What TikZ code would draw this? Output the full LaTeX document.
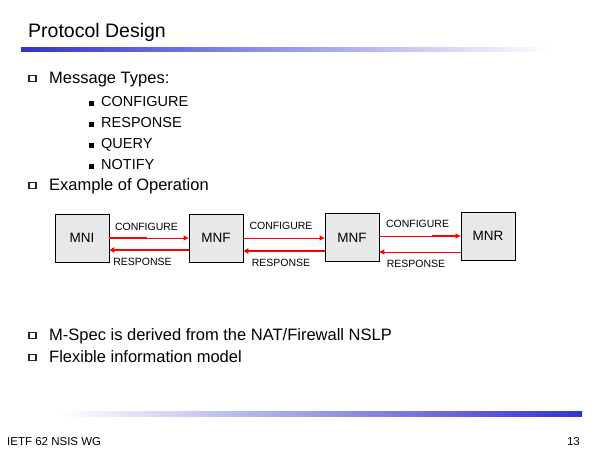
\documentclass[tikz,border=0pt]{standalone}
\usepackage{fontspec}
\setmainfont{Liberation Sans}
\usetikzlibrary{arrows.meta}
\definecolor{barblue}{RGB}{51,51,204}
\definecolor{boxgray}{RGB}{232,232,232}
\definecolor{arrred}{RGB}{255,0,0}
\begin{document}
\begin{tikzpicture}[x=1pt,y=-1pt,
  titletxt/.style={anchor=base west,inner sep=0pt,font=\fontsize{19.5}{22}\selectfont},
  bodytxt/.style={anchor=base west,inner sep=0pt,font=\fontsize{16.5}{19}\selectfont},
  subtxt/.style={anchor=base west,inner sep=0pt,font=\fontsize{14.5}{17}\selectfont},
  foottxt/.style={inner sep=0pt,font=\fontsize{11.5}{13}\selectfont},
  msglabel/.style={anchor=base,inner sep=0pt,font=\fontsize{10.5}{12}\selectfont},
  entity/.style={draw=black,line width=0.9pt,fill=boxgray,minimum width=54pt,minimum height=48pt,inner sep=0pt,font=\fontsize{13.5}{16}\selectfont},
  openbullet/.style={draw=black!85,line width=1.1pt,fill=white},
  fillbullet/.style={fill=black},
  msgthin/.style={draw=arrred,line width=1pt,-{Triangle[length=5pt,width=5pt]}},
  msgthick/.style={draw=arrred,line width=2.3pt,-{Triangle[length=5pt,width=5.5pt]}},
  thickseg/.style={draw=arrred,line width=2.3pt}
]
\useasboundingbox (0,0) rectangle (600,450);
\fill[white] (0,0) rectangle (600,450);

% title and bars
\node[titletxt] (title) at (28,37) {Protocol Design};
\shade[left color=barblue,right color=white] (21,47) rectangle (552,51);
\shade[left color=white,right color=barblue] (60,411) rectangle (582,416);

% bullets level 1
\draw[openbullet] (29,75.5) rectangle (36,81.5);
\node[bodytxt] (b1) at (49,83) {Message Types:};
\draw[openbullet] (29,182.5) rectangle (36,188.5);
\node[bodytxt] (b2) at (49,190) {Example of Operation};
\draw[openbullet] (29,332.5) rectangle (36,338.5);
\node[bodytxt] (b3) at (49,340) {M-Spec is derived from the NAT/Firewall NSLP};
\draw[openbullet] (29,354.5) rectangle (36,360.5);
\node[bodytxt] (b4) at (49,362) {Flexible information model};

% bullets level 2
\fill[fillbullet] (89,101) rectangle (94,106);
\node[subtxt] (s1) at (101,106) {CONFIGURE};
\fill[fillbullet] (89,122) rectangle (94,127);
\node[subtxt] (s2) at (101,127) {RESPONSE};
\fill[fillbullet] (89,143) rectangle (94,148);
\node[subtxt] (s3) at (101,148) {QUERY};
\fill[fillbullet] (89,164) rectangle (94,169);
\node[subtxt] (s4) at (101,169) {NOTIFY};

% entities
\node[entity] (mni) at (82,238) {MNI};
\node[entity] (mnfa) at (216,238) {MNF};
\node[entity] (mnfb) at (352,237.5) {MNF};
\node[entity] (mnr) at (488,236) {MNR};

% messages 1
\coordinate (k1) at (147,238);
\draw[msgthin] (mni.east |- 0,238) -- (mnfa.west |- 0,238);
\draw[thickseg] (mni.east |- 0,238) -- (k1);
\draw[msgthick] (mnfa.west |- 0,250) -- (mni.east |- 0,250);
\node[msglabel] (c1) at (146.5,230) {CONFIGURE};
\node[msglabel] (r1) at (142.5,265) {RESPONSE};

% messages 2
\draw[msgthin] (mnfa.east |- 0,238) -- (mnfb.west |- 0,238);
\draw[msgthick] (mnfb.west |- 0,251) -- (mnfa.east |- 0,251);
\node[msglabel] (c2) at (281,229) {CONFIGURE};
\node[msglabel] (r2) at (281,266) {RESPONSE};

% messages 3
\coordinate (k3) at (432,236);
\draw[msgthin] (mnfb.east |- 0,236) -- (mnr.west |- 0,236);
\draw[thickseg] (k3) -- ([xshift=-4pt]mnr.west |- 0,236);
\draw[msgthin] (mnr.west |- 0,252) -- (mnfb.east |- 0,252);
\node[msglabel] (c3) at (417.5,227) {CONFIGURE};
\node[msglabel] (r3) at (416,267) {RESPONSE};

% footer
\node[foottxt,anchor=base west] (foot) at (7,445) {IETF 62 NSIS WG};
\node[foottxt,anchor=base east] (page) at (580,445) {13};
\end{tikzpicture}
\end{document}
